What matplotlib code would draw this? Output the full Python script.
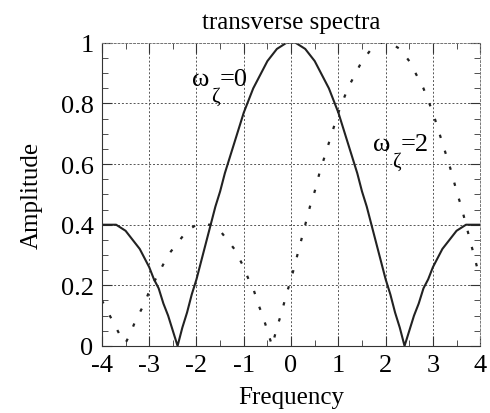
import matplotlib.pyplot as plt
import numpy as np
from matplotlib.ticker import MultipleLocator

plt.rcParams['font.family'] = ['Liberation Serif', 'DejaVu Serif']

# frequency grid, -4 .. 4 in steps of 0.1
freq = np.round(np.arange(-40, 41) / 10.0, 1)

# amplitude for omega_zeta = 0
amp_0 = [0.40, 0.40, 0.40, 0.40, 0.39, 0.38, 0.36, 0.34, 0.32, 0.29,
         0.26, 0.22, 0.19, 0.14, 0.10, 0.05, 0.00, 0.06, 0.11, 0.17,
         0.22, 0.28, 0.34, 0.40, 0.46, 0.51, 0.57, 0.62, 0.67, 0.72,
         0.77, 0.81, 0.85, 0.88, 0.91, 0.94, 0.96, 0.98, 0.99, 1.00,
         1.00,
         1.00, 0.99, 0.98, 0.96, 0.94, 0.91, 0.88, 0.85, 0.81, 0.77,
         0.72, 0.67, 0.62, 0.57, 0.51, 0.46, 0.40, 0.34, 0.28, 0.22,
         0.17, 0.11, 0.06, 0.00, 0.05, 0.10, 0.14, 0.19, 0.22, 0.26,
         0.29, 0.32, 0.34, 0.36, 0.38, 0.39, 0.40, 0.40, 0.40, 0.40]

# amplitude for omega_zeta = 2
amp_2 = [0.15, 0.12, 0.09, 0.06, 0.03, 0.01, 0.04, 0.08, 0.11, 0.14,
         0.18, 0.21, 0.24, 0.27, 0.30, 0.32, 0.34, 0.36, 0.38, 0.39,
         0.40, 0.40, 0.40, 0.40, 0.39, 0.38, 0.36, 0.34, 0.32, 0.29,
         0.26, 0.22, 0.19, 0.14, 0.10, 0.05, 0.00, 0.06, 0.11, 0.17,
         0.22, 0.28, 0.34, 0.40, 0.46, 0.51, 0.57, 0.62, 0.67, 0.72,
         0.77, 0.81, 0.85, 0.88, 0.91, 0.94, 0.96, 0.98, 0.99, 1.00,
         1.00,
         1.00, 0.99, 0.98, 0.96, 0.94, 0.91, 0.88, 0.85, 0.81, 0.77,
         0.72, 0.67, 0.62, 0.57, 0.51, 0.46, 0.40, 0.34, 0.28, 0.22]

xticks = [-4, -3, -2, -1, 0, 1, 2, 3, 4]
yticks = [0, 0.2, 0.4, 0.6, 0.8, 1]
yticklabels = ['0', '0.2', '0.4', '0.6', '0.8', '1']

fig = plt.figure(figsize=(4.9, 4.14), dpi=100)
ax = fig.add_axes([0.208, 0.162, 0.772, 0.732])

ax.plot(freq, amp_0, color='#222222', lw=1.5)
ax.plot(freq, amp_2, color='#222222', lw=1.6, linestyle=(0, (1.5, 6)))

ax.set_xlim(-4, 4)
ax.set_ylim(0, 1)
ax.set_xticks(xticks)
ax.set_xticklabels([str(t) for t in xticks])
ax.set_yticks(yticks)
ax.set_yticklabels(yticklabels)
ax.xaxis.set_minor_locator(MultipleLocator(0.5))
ax.yaxis.set_minor_locator(MultipleLocator(0.05))
ax.tick_params(which='both', direction='in', top=True, right=True,
               labelsize=19, color='#333333')
ax.tick_params(which='major', length=7, pad=6)
ax.tick_params(which='minor', length=4)
ax.grid(True, which='major', linestyle=(0, (2, 2)), color='#555555', lw=0.7)

for s in ['top', 'right']:
    ax.spines[s].set_linestyle((0, (2, 2)))
    ax.spines[s].set_color('#777777')
    ax.spines[s].set_linewidth(0.7)
for s in ['left', 'bottom']:
    ax.spines[s].set_color('#333333')


def omega_label(x, y, value):
    # omega, a lowered zeta subscript, then "=value"
    ax.annotate('ω', (x, y), fontsize=19, va='baseline')
    ax.annotate('ζ', (x, y), xytext=(14, -11), textcoords='offset points',
                fontsize=15, va='baseline')
    ax.annotate('=' + value, (x, y), xytext=(20, 0), textcoords='offset points',
                fontsize=19, va='baseline')


omega_label(-2.1, 0.86, '0')
omega_label(1.73, 0.645, '2')

ax.set_title('transverse spectra', fontsize=18, pad=11)
ax.set_xlabel('Frequency', fontsize=18, labelpad=7)
ax.set_ylabel('Amplitude', fontsize=18, labelpad=13)

fig.savefig('out.png', dpi=100)
